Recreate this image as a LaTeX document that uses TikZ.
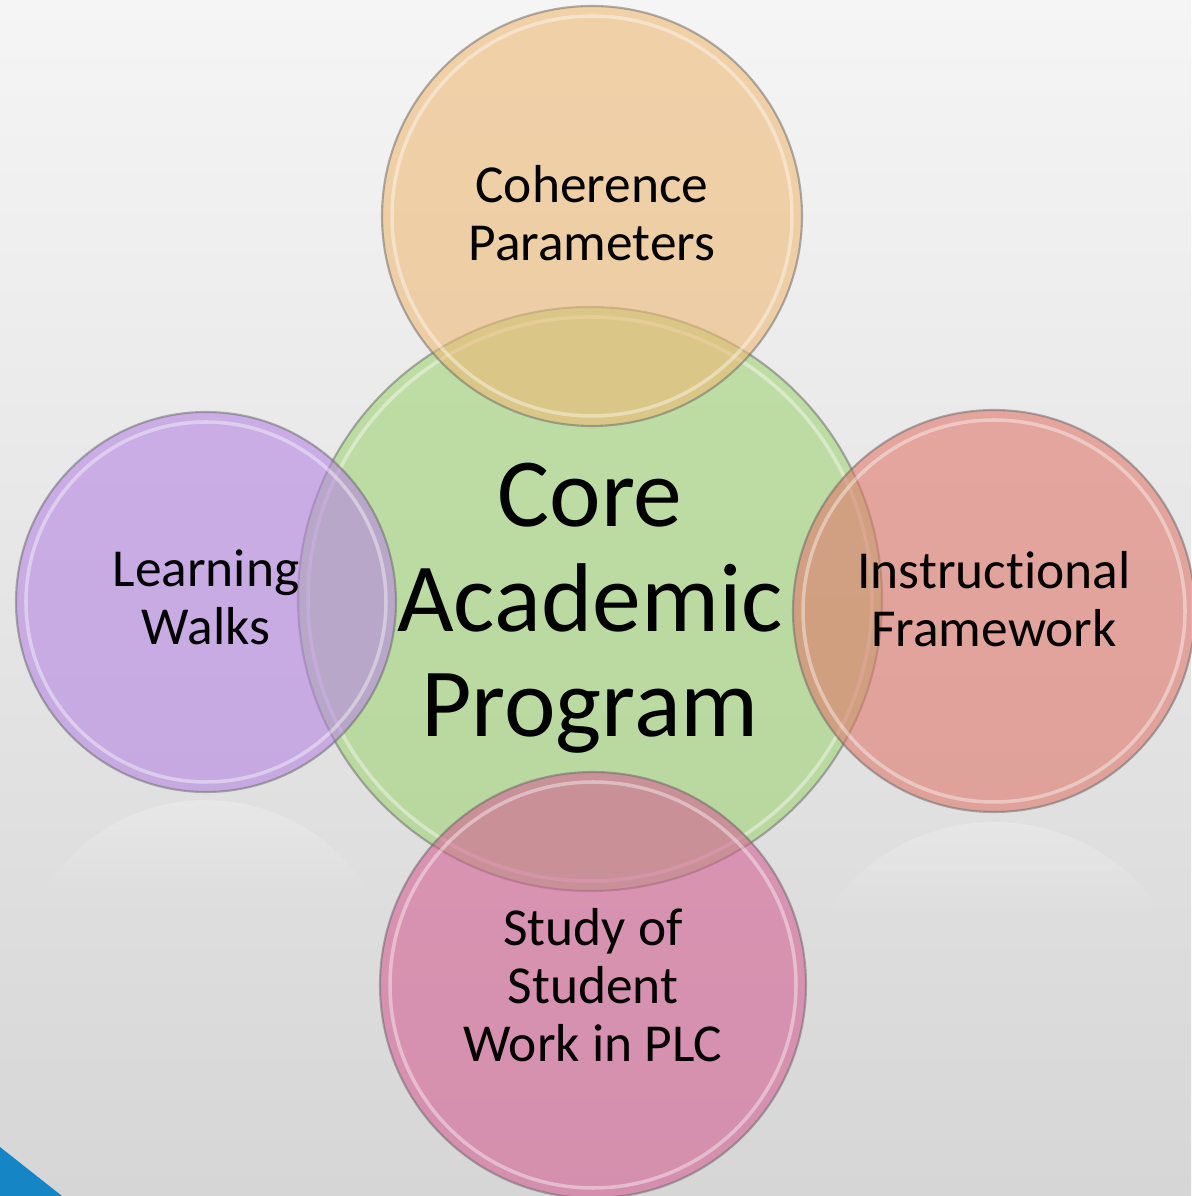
\documentclass[tikz,border=0pt]{standalone}
\usepackage{fontspec}
\setmainfont{Carlito}[Ligatures=NoCommon]
\usetikzlibrary{fadings}
\definecolor{bgtop}{RGB}{245,245,245}
\definecolor{bgbottom}{RGB}{214,214,214}
\definecolor{cohorange}{RGB}{238,185,117}
\definecolor{coregreen}{RGB}{160,212,117}
\definecolor{walkpurple}{RGB}{183,133,227}
\definecolor{instrred}{RGB}{223,120,107}
\definecolor{plcpink}{RGB}{212,97,148}
\definecolor{cornerblue}{RGB}{21,133,197}

\begin{document}
\begin{tikzpicture}[
        bubble/.style={circle, draw=black!60, draw opacity=0.5, line width=0.6pt,
                       fill opacity=0.6, inner sep=0pt},
        tag/.style={align=center, font=\fontsize{15.2}{16.6}\selectfont},
        rim/.style={white, line width=1pt, draw opacity=0.4},
        glow/.style={white, opacity=0.3, path fading=south}
      ]
        % Backdrop
        \shade[top color=bgtop, bottom color=bgbottom] (-5.90,5.99) rectangle (6.01,-5.97);
        \useasboundingbox (-5.90,5.99) rectangle (6.01,-5.97);
        % Floor reflections
        \fill[glow] (-2.167,-3.01) arc[start angle=28.3, end angle=151.7, radius=1.9] -- cycle;
        \fill[glow] (5.778,-3.23) arc[start angle=30.2, end angle=149.8, radius=2.01] -- cycle;
        % Circles — manually placed
        \node[bubble, fill=coregreen, minimum size=5.84cm] (core) at (0, 0) {};
        \draw[rim] (core.center) circle (2.82);
        \node[bubble, fill=cohorange, minimum size=4.2cm] (coh) at (0.02, 3.83) {};
        \draw[rim] (coh.center) circle (2.0);
        \node[bubble, fill=walkpurple, minimum size=3.8cm] (walks) at (-3.84, -0.03) {};
        \draw[rim] (walks.center) circle (1.8);
        \node[bubble, fill=instrred, minimum size=4.02cm] (instr) at (4.04, -0.12) {};
        \draw[rim] (instr.center) circle (1.91);
        \node[bubble, fill=plcpink, minimum size=4.26cm] (plc) at (0.03, -3.86) {};
        \draw[rim] (plc.center) circle (2.03);
        % Labels
        \node[tag, font=\fontsize{27.8}{29.9}\selectfont] (coreText)
          at ([yshift=-0.09cm]core.center) {Core\\Academic\\Program};
        \node[tag] (cohText) at ([yshift=0.03cm]coh.center) {Coherence\\Parameters};
        \node[tag] (walksText) at ([yshift=0.05cm]walks.center) {Learning\\Walks};
        \node[tag] (instrText) at ([yshift=0.12cm]instr.center) {Instructional\\Framework};
        \node[tag] (plcText) at (plc.center) {Study of\\Student\\Work in PLC};
        % Corner tab
        \fill[cornerblue] (-5.90,-5.48) -- (-5.28,-5.97) -- (-5.90,-5.97) -- cycle;
      \end{tikzpicture}
\end{document}
